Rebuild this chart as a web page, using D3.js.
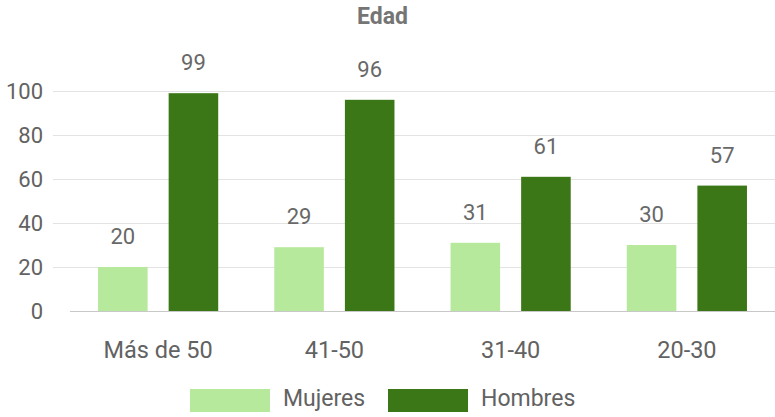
<!DOCTYPE html>
<html>
<head>
<meta charset="utf-8">
<script src="https://cdn.jsdelivr.net/npm/d3@7"></script>
<style>
  html, body { margin: 0; padding: 0; background: #fff; }
  svg { display: block; font-family: Roboto, Arial, sans-serif; }
</style>
</head>
<body>
<svg id="chart" width="775" height="417"></svg>
<script>
// Age groups and counts per gender
const categories = ["Más de 50", "41-50", "31-40", "20-30"];
const seriesNames = ["Mujeres", "Hombres"];
const mujeres = [20, 29, 31, 30];
const hombres = [99, 96, 61, 57];
const yTicks = [0, 20, 40, 60, 80, 100];
const colors = ["#b7e99c", "#3b7716"];

const FONT = "Roboto, Arial, sans-serif";
const svg = d3.select("#chart");
const W = 775, H = 417;
const plot = { left: 70, right: 775, top: 91, bottom: 311 };

const x0 = d3.scaleBand().domain(categories).range([plot.left, plot.right]).padding(0);
const x1 = d3.scaleBand().domain(seriesNames).range([0, x0.bandwidth()])
  .paddingInner(0.298).paddingOuter(0.397);
const y = d3.scaleLinear().domain([0, 100]).range([plot.bottom, plot.top]);
const color = d3.scaleOrdinal().domain(seriesNames).range(colors);

// Title
svg.append("text")
  .attr("x", W / 2 - 5).attr("y", 24)
  .attr("text-anchor", "middle")
  .attr("font-size", 23).attr("font-weight", "bold")
  .attr("fill", "#757575")
  .text("Edad");

// Gridlines
svg.append("g").selectAll("line").data(yTicks.filter(d => d !== 0)).join("line")
  .attr("x1", 53).attr("x2", plot.right)
  .attr("y1", d => y(d) + 0.5).attr("y2", d => y(d) + 0.5)
  .attr("stroke", "#e3e3e3").attr("stroke-width", 1);

// Y axis labels
const yAxis = d3.axisLeft(y).tickValues(yTicks).tickSize(0).tickPadding(0);
const yg = svg.append("g").attr("transform", `translate(43,0)`).call(yAxis);
yg.select(".domain").remove();
yg.selectAll("text")
  .attr("font-size", 22).attr("fill", "#626262")
  .attr("font-family", FONT)
  .attr("dy", "0.36em");

// Bars
const rows = categories.map((c, i) => ({ cat: c, values: [
  { key: "Mujeres", value: mujeres[i] },
  { key: "Hombres", value: hombres[i] }
]}));

const groups = svg.append("g").selectAll("g").data(rows).join("g")
  .attr("transform", d => `translate(${x0(d.cat)},0)`);

groups.selectAll("rect").data(d => d.values).join("rect")
  .attr("x", d => x1(d.key))
  .attr("width", x1.bandwidth())
  .attr("y", d => y(d.value))
  .attr("height", d => y(0) - y(d.value))
  .attr("fill", d => color(d.key));

// Value labels
groups.selectAll("text.val").data(d => d.values).join("text")
  .attr("class", "val")
  .attr("x", d => x1(d.key) + x1.bandwidth() / 2)
  .attr("y", d => y(d.value) - 23)
  .attr("text-anchor", "middle")
  .attr("font-size", 22).attr("fill", "#686868")
  .text(d => d.value);

// Baseline
svg.append("line")
  .attr("x1", plot.left).attr("x2", plot.right)
  .attr("y1", y(0) + 0.5).attr("y2", y(0) + 0.5)
  .attr("stroke", "#c8c8c8").attr("stroke-width", 1);

// Category axis
const xAxis = d3.axisBottom(x0).tickSize(0).tickPadding(0);
const xg = svg.append("g").attr("transform", `translate(0,358)`).call(xAxis);
xg.select(".domain").remove();
xg.selectAll("text")
  .attr("font-size", 23.5).attr("fill", "#626262")
  .attr("font-family", FONT)
  .attr("dy", 0);

// Legend
const legendItems = [
  { key: "Mujeres", x: 190, tx: 283 },
  { key: "Hombres", x: 388, tx: 481 }
];
const lg = svg.append("g");
lg.selectAll("rect").data(legendItems).join("rect")
  .attr("x", d => d.x).attr("y", 389)
  .attr("width", 80).attr("height", 23)
  .attr("fill", d => color(d.key));
lg.selectAll("text").data(legendItems).join("text")
  .attr("x", d => d.tx).attr("y", 406)
  .attr("font-size", 23).attr("fill", "#626262")
  .text(d => d.key);
</script>
</body>
</html>
